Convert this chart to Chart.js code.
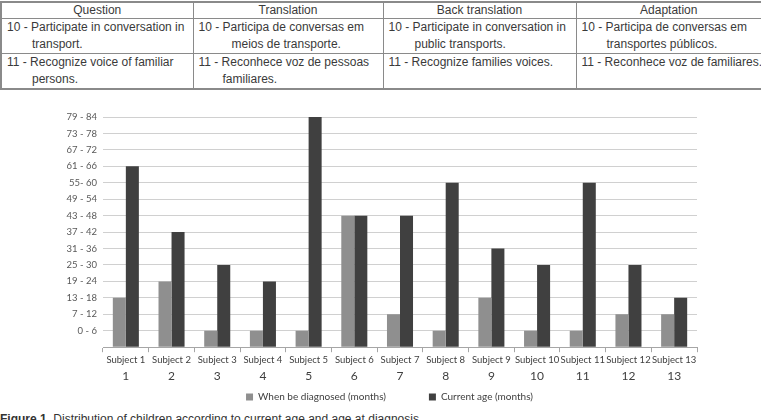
<!DOCTYPE html>
<html>
<head>
<meta charset="utf-8">
<script src="https://cdn.jsdelivr.net/npm/chart.js@4.4.1/dist/chart.umd.min.js"></script>
<style>
  html, body { margin: 0; padding: 0; background: #fff; width: 761px; height: 420px; overflow: hidden; }
  table {
    position: absolute; left: 0; top: 1px; width: 761px;
    border-collapse: collapse; table-layout: fixed;
    font-family: "Liberation Sans", Arial, sans-serif; font-size: 12px; color: #3a3a3a;
    border: 2px solid #8a8a8a;
  }
  th, td { border: 1px solid #8a8a8a; padding: 0 0 0 5px; vertical-align: top; white-space: nowrap; overflow: visible; }
  th { font-weight: normal; text-align: center; height: 15px; line-height: 15px; padding: 0; }
  td { height: 34px; line-height: 17px; }
  #chartBox { position: absolute; left: 0; top: 100px; }
  #caption {
    position: absolute; left: 0; top: 412px; white-space: nowrap;
    font-family: "Liberation Sans", Arial, sans-serif; font-size: 12px; color: #333;
  }
</style>
</head>
<body>
<table>
  <colgroup><col style="width:192px"><col style="width:190px"><col style="width:193px"><col style="width:186px"></colgroup>
  <tr><th>Question</th><th>Translation</th><th>Back translation</th><th>Adaptation</th></tr>
  <tr>
    <td style="padding-left:30px;text-indent:-25px">10 - Participate in conversation in<br>transport.</td>
    <td style="padding-left:38px;text-indent:-33px">10 - Participa de conversas em<br>meios de transporte.</td>
    <td style="padding-left:31px;text-indent:-26px">10 - Participate in conversation in<br>public transports.</td>
    <td style="padding-left:30px;text-indent:-25px">10 - Participa de conversas em<br>transportes públicos.</td>
  </tr>
  <tr>
    <td style="padding-left:30px;text-indent:-25px">11 - Recognize voice of familiar<br>persons.</td>
    <td style="padding-left:29px;text-indent:-24px">11 - Reconhece voz de pessoas<br>familiares.</td>
    <td>11 - Recognize families voices.</td>
    <td>11 - Reconhece voz de familiares.</td>
  </tr>
</table>

<div id="chartBox"><canvas id="ageChart" width="761" height="312"></canvas></div>
<div id="caption"><b>Figure 1.</b> Distribution of children according to current age and age at diagnosis.</div>

<script>
const subjectLabels = ["Subject 1", "Subject 2", "Subject 3", "Subject 4", "Subject 5", "Subject 6", "Subject 7",
  "Subject 8", "Subject 9", "Subject 10", "Subject 11", "Subject 12", "Subject 13"];
const subjectNumbers = ["1", "2", "3", "4", "5", "6", "7", "8", "9", "10", "11", "12", "13"];
// months (one gridline = 6 months)
const diagnosedMonths = [18, 24, 6, 6, 6, 48, 12, 6, 18, 6, 6, 12, 12];
const currentAgeMonths = [66, 42, 30, 24, 84, 48, 48, 60, 36, 30, 60, 30, 18];
const ageRangeLabels = ["0 - 6", "7 - 12", "13 - 18", "19 - 24", "25 - 30", "31 - 36", "37 - 42",
  "43 - 48", "49 - 54", "55- 60", "61 - 66", "67 - 72", "73 - 78", "79 - 84"];

Chart.defaults.font.family = "Lato, 'Open Sans', sans-serif";
Chart.defaults.color = "#595959";

// en spaces after the first legend entry widen the gap between the two entries
const legendGap = "\u2002\u2002\u2002\u2002\u2002\u2002\u2002";

const ctx = document.getElementById("ageChart");
new Chart(ctx, {
  type: "bar",
  data: {
    labels: subjectLabels,
    datasets: [
      {
        label: "When be diagnosed (months)" + legendGap,
        data: diagnosedMonths,
        backgroundColor: "#8f8f8f",
        barPercentage: 1,
        categoryPercentage: 0.57,
      },
      {
        label: "Current age (months)",
        data: currentAgeMonths,
        backgroundColor: "#404040",
        barPercentage: 1,
        categoryPercentage: 0.57,
      },
    ],
  },
  options: {
    responsive: false,
    animation: false,
    devicePixelRatio: 1,
    layout: { padding: { top: 17, left: 18, right: 0, bottom: 0 } },
    plugins: {
      tooltip: { enabled: false },
      legend: {
        position: "bottom",
        labels: {
          boxWidth: 7,
          boxHeight: 7,
          padding: 8,
          color: "#404040",
          font: { size: 10 },
        },
      },
    },
    scales: {
      x: {
        weight: 0,
        offset: true,
        grid: { display: true, drawOnChartArea: false, drawTicks: true, tickLength: 5, color: "#a6a6a6", offset: true },
        border: { display: true, color: "#a6a6a6" },
        ticks: { font: { size: 9.5 }, color: "#404040", padding: 2, maxRotation: 0, autoSkip: false },
      },
      x2: {
        type: "category",
        labels: subjectNumbers,
        position: "bottom",
        weight: 1,
        offset: true,
        grid: { display: false, drawTicks: false },
        border: { display: false },
        ticks: { font: { size: 12 }, color: "#404040", padding: 1, maxRotation: 0, autoSkip: false },
      },
      y: {
        min: 0,
        max: 84,
        z: 1,
        ticks: {
          stepSize: 6,
          padding: 6,
          font: { size: 9.5 },
          color: "#595959",
          callback: (value) => (value === 0 ? "" : ageRangeLabels[value / 6 - 1]),
        },
        grid: { color: "#d0d0d0", drawTicks: false },
        border: { display: false },
        afterFit: (scale) => { scale.width = 85; },
      },
      yRight: {
        type: "linear",
        position: "right",
        display: true,
        ticks: { display: false },
        grid: { display: false, drawTicks: false },
        border: { display: false },
        afterFit: (scale) => { scale.width = 64; },
      },
    },
  },
});
</script>
</body>
</html>
